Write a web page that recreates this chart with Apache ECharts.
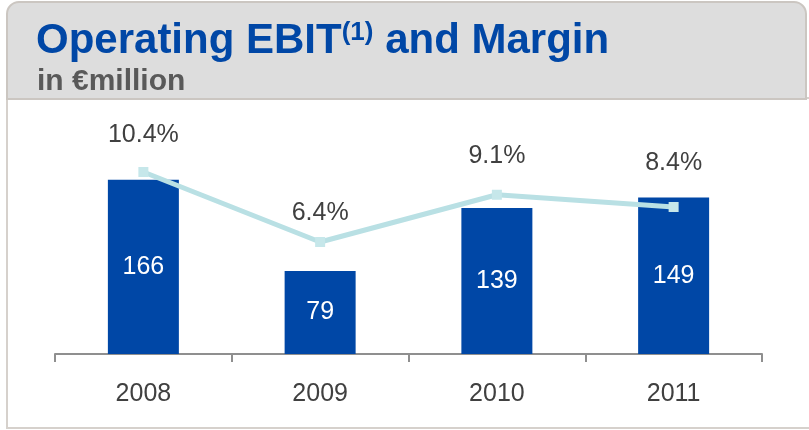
<!DOCTYPE html>
<html>
<head>
<meta charset="utf-8">
<script src="https://cdn.jsdelivr.net/npm/echarts@6/dist/echarts.min.js"></script>
<style>
  html, body { margin: 0; padding: 0; background: #fff; }
  #chart { width: 809px; height: 430px; }
</style>
</head>
<body>
<div id="chart"></div>
<script>
// data
const years = ['2008', '2009', '2010', '2011']
const ebit = [166, 79, 139, 149]          // € million
const margin = [10.4, 6.4, 9.1, 8.4]      // %
// how far each margin label sits above its marker (px)
const labelGap = [19, 11, 21, 26]

const font = '"Liberation Sans", Arial, sans-serif'
const blue = '#0047a6'
const teal = '#b9e0e4'

const chart = echarts.init(document.getElementById('chart'))

const option = {
    animation: false,
    backgroundColor: '#fff',
    graphic: [
        {
            // white panel under the header
            type: 'rect', z: -2,
            shape: { x: 7, y: 98, width: 830, height: 330 },
            style: { fill: '#fff', stroke: '#d6d1cc', lineWidth: 2 }
        },
        {
            // grey header band
            type: 'rect', z: -1,
            shape: { x: 7, y: 2, width: 799, height: 97, r: [12, 12, 0, 0] },
            style: { fill: '#dddddd', stroke: '#cbc6c1', lineWidth: 2 }
        }
    ],
    title: [
        {
            left: 31, top: 15,
            text: '{t|Operating EBIT}{s|(1)}{t| and Margin}',
            textStyle: {
                rich: {
                    t: { fontFamily: font, fontSize: 42, fontWeight: 'bold', color: blue },
                    s: { fontFamily: font, fontSize: 26, fontWeight: 'bold', color: blue, verticalAlign: 'top' }
                }
            }
        },
        {
            left: 32, top: 62,
            text: 'in €million',
            textStyle: { fontFamily: font, fontSize: 30, fontWeight: 'bold', color: '#595959' }
        }
    ],
    grid: { left: 55, right: 47, top: 144, bottom: 76 },
    xAxis: {
        type: 'category',
        data: years,
        axisLine: { lineStyle: { color: '#8f8f8f', width: 2 } },
        axisTick: { show: true, length: 8, lineStyle: { color: '#8f8f8f', width: 2 } },
        axisLabel: { fontFamily: font, fontSize: 25, color: '#404040', margin: 28 }
    },
    yAxis: [
        { type: 'value', min: 0, max: 200, show: false },
        { type: 'value', min: 0, max: 12, show: false }
    ],
    series: [
        {
            type: 'bar',
            data: ebit,
            barWidth: 71,
            itemStyle: { color: blue },
            label: {
                show: true, position: 'inside',
                fontFamily: font, fontSize: 25, color: '#fff'
            }
        },
        {
            type: 'line',
            yAxisIndex: 1,
            data: margin.map((v, i) => ({
                value: v,
                label: { distance: labelGap[i] }
            })),
            symbol: 'rect',
            symbolSize: 10,
            lineStyle: { color: teal, width: 5 },
            itemStyle: { color: '#c6e7ea' },
            label: {
                show: true, position: 'top',
                fontFamily: font, fontSize: 25, color: '#404040',
                formatter: p => p.value.toFixed(1) + '%'
            }
        }
    ]
}

chart.setOption(option)
</script>
</body>
</html>
